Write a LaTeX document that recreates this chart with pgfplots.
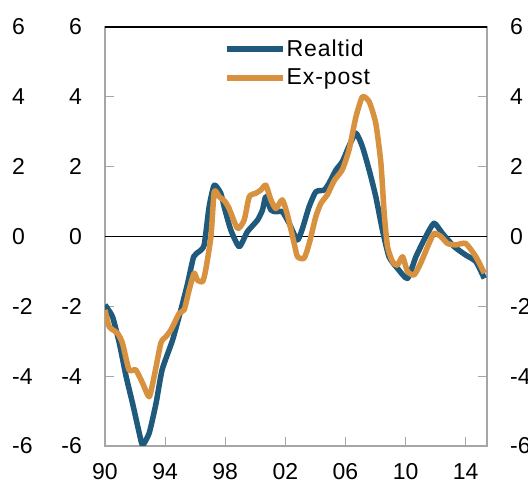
\documentclass[border=0pt]{standalone}
\usepackage{pgfplots}
\pgfplotsset{compat=1.18}
\usepackage{fontspec}
\setmainfont{Liberation Sans}
\newfontfamily\legfont[LetterSpace=4]{Liberation Sans}
\definecolor{realtid}{HTML}{1F5A7C}
\definecolor{expost}{HTML}{D8913E}
\definecolor{axgray}{HTML}{A6A6A6}

\pgfplotstableread{
x y
1990.0 -1.96
1990.5 -2.3
1990.95 -3.05
1991.4 -4.0
1991.83 -4.77
1992.28 -5.63
1992.5 -5.97
1992.94 -5.63
1993.4 -4.77
1993.8 -3.82
1994.5 -2.96
1995.05 -2.1
1995.5 -1.34
1995.9 -0.58
1996.27 -0.43
1996.6 -0.24
1996.93 0.85
1997.27 1.47
1997.7 1.24
1997.93 0.85
1998.37 0.19
1998.93 -0.29
1999.48 0.14
2000.15 0.47
2000.48 0.76
2000.7 1.14
2001.04 0.76
2001.37 0.71
2001.8 0.71
2002.25 0.38
2002.8 -0.1
2003.14 0.23
2003.58 0.85
2004.03 1.28
2004.58 1.33
2004.9 1.52
2005.36 1.9
2005.8 2.15
2006.25 2.6
2006.7 2.96
2007.13 2.57
2007.58 1.9
2008.02 1.14
2008.46 0.19
2008.9 -0.58
2009.46 -0.91
2010.13 -1.2
2010.69 -0.58
2011.35 0.0
2011.9 0.38
2012.45 0.09
2013.23 -0.29
2014.0 -0.53
2014.68 -0.72
2015.24 -1.2
}\realtid

\pgfplotstableread{
x y
1990.0 -2.1
1990.28 -2.58
1990.83 -2.77
1991.16 -3.05
1991.6 -3.82
1992.05 -3.82
1992.5 -4.2
1992.94 -4.59
1993.27 -4.01
1993.72 -3.05
1994.05 -2.87
1994.38 -2.68
1994.94 -2.2
1995.27 -2.1
1995.6 -1.53
1995.93 -1.05
1996.15 -1.25
1996.5 -1.29
1996.7 -0.96
1997.05 0.0
1997.27 1.28
1997.6 1.14
1997.95 1.02
1998.26 0.8
1998.82 0.23
1999.26 0.47
1999.6 1.14
2000.04 1.24
2000.37 1.33
2000.7 1.47
2001.04 1.05
2001.37 0.8
2001.8 1.05
2002.14 0.62
2002.59 -0.2
2002.81 -0.58
2003.25 -0.62
2003.59 -0.2
2004.03 0.57
2004.37 0.95
2004.8 1.2
2005.25 1.6
2005.8 1.92
2006.25 2.5
2006.7 3.43
2007.13 4.0
2007.58 3.86
2008.02 3.24
2008.36 2.1
2008.58 0.66
2008.8 -0.29
2009.13 -0.72
2009.46 -0.82
2009.8 -0.58
2010.13 -1.0
2010.57 -1.1
2011.0 -0.77
2011.56 -0.2
2011.9 0.09
2012.35 0.0
2012.79 -0.2
2013.35 -0.24
2014.0 -0.2
2014.68 -0.58
2015.24 -1.05
}\expost

\begin{document}
\begin{tikzpicture}
\pgfplotsset{
  base/.style={
    scale only axis, width=382pt, height=419pt,
    at={(105pt,38pt)}, anchor=south west,
    xmin=1990, xmax=2015.42, ymin=-6, ymax=6,
    ytick={-6,-4,...,6},
    yticklabels={-6,-4,-2,0,2,4,6},
    tick label style={font=\fontsize{23}{27}\selectfont, inner sep=0pt},
  }
}
% outer left column of labels
\begin{axis}[base, hide x axis, axis y line*=left, axis line style={draw=none},
  major tick length=0pt, yticklabel style={anchor=west, xshift=-93pt}]
\end{axis}
% right labels
\begin{axis}[base, hide x axis, axis y line*=right, axis line style={draw=none},
  major tick length=0pt, yticklabel style={anchor=west, xshift=23pt}]
\end{axis}
% main axis
\begin{axis}[base,
  axis line style={axgray, line width=1.5pt},
  tick style={axgray, line width=1.2pt},
  major tick length=9pt, tick align=inside,
  xtick={1990,1994,...,2014},
  xticklabels={90,94,98,02,06,10,14},
  xtick pos=left, ytick pos=both, yticklabel pos=left,
  xticklabel style={anchor=north, yshift=-17pt},
  yticklabel style={anchor=east, xshift=-23pt},
  extra y ticks={0}, extra y tick labels={},
  extra y tick style={grid=major, major grid style={black, line width=1.5pt}, major tick length=0pt},
  legend style={at={(rel axis cs:0.31,0.972)}, anchor=north west, draw=none, fill=none,
    inner sep=0pt, font=\legfont\fontsize{23}{27}\selectfont, row sep=9pt,
    cells={anchor=west}, nodes={inner sep=1pt}},
  legend image code/.code={\draw[#1, line width=6pt] (0pt,0pt) -- (56pt,0pt);},
  legend cell align=left,
]
\addplot[realtid, line width=5.5pt, line join=round, smooth, tension=0.35] table[x=x, y=y] {\realtid};
\addlegendentry{Realtid}
\addplot[expost, line width=5.5pt, line join=round, smooth, tension=0.35] table[x=x, y=y] {\expost};
\addlegendentry{Ex-post}
\draw[black, line width=2pt] (rel axis cs:0,1) -- (rel axis cs:1,1);
\end{axis}
\pgfresetboundingbox
\useasboundingbox (0pt,0pt) rectangle (528pt,484pt);
\end{tikzpicture}
\end{document}
